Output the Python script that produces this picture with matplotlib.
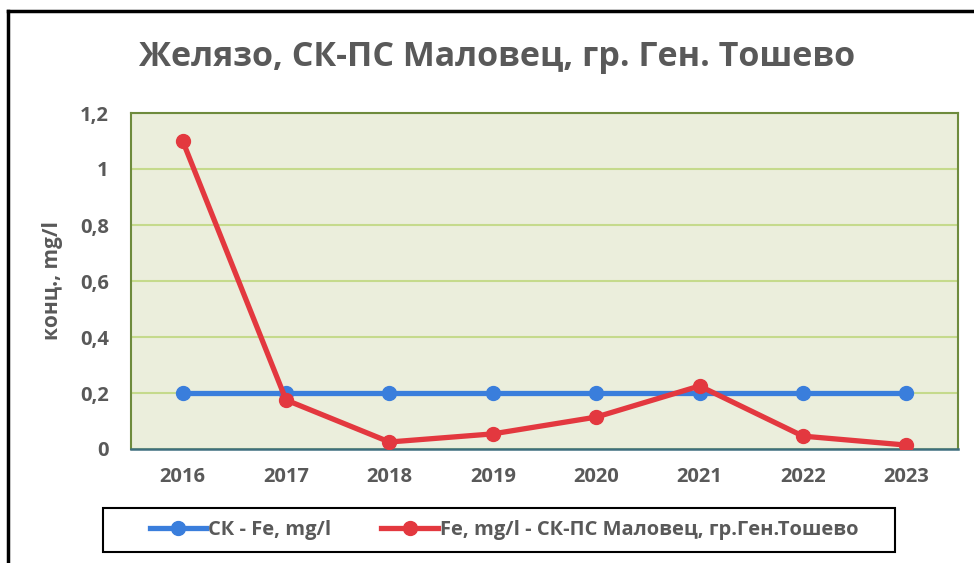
import matplotlib
matplotlib.use("Agg")
import matplotlib.pyplot as plt
from matplotlib.lines import Line2D
from matplotlib.patches import Rectangle

plt.rcParams['font.family'] = ['Open Sans', 'DejaVu Sans']

years = ["2016", "2017", "2018", "2019", "2020", "2021", "2022", "2023"]
sk_fe = [0.2, 0.2, 0.2, 0.2, 0.2, 0.2, 0.2, 0.2]
fe_malovets = [1.1, 0.175, 0.025, 0.054, 0.114, 0.225, 0.046, 0.014]
yticks = [0, 0.2, 0.4, 0.6, 0.8, 1.0, 1.2]
ytick_labels = ["0", "0,2", "0,4", "0,6", "0,8", "1", "1,2"]

title = "Желязо, СК-ПС Маловец, гр. Ген. Тошево"
ylabel = "конц., mg/l"
label_sk = "СК - Fe, mg/l"
label_fe = "Fe, mg/l - СК-ПС Маловец, гр.Ген.Тошево"

gray = "#595959"
blue = "#3A7EDC"
red = "#E3383F"

fig = plt.figure(figsize=(9.74, 5.63), dpi=100)
ax = fig.add_axes([131/974, 1 - 449/563, (958 - 131)/974, (449 - 113)/563])
ax.set_facecolor("#EBEEDC")

x = list(range(len(years)))
ax.plot(x, sk_fe, color=blue, lw=3.8, marker="o", ms=10, zorder=3, label=label_sk)
ax.plot(x, fe_malovets, color=red, lw=3.8, marker="o", ms=10, zorder=4, label=label_fe)

ax.set_xlim(-0.5, len(years) - 0.5)
ax.set_ylim(0, 1.2)
ax.set_yticks(yticks)
ax.set_yticklabels(ytick_labels)
ax.set_xticks(x)
ax.set_xticklabels(years)
ax.yaxis.grid(True, color="#C5DA8C", lw=1.5)
ax.set_axisbelow(True)
ax.tick_params(length=0, labelsize=14.5, labelcolor=gray)
for lab in ax.get_xticklabels() + ax.get_yticklabels():
    lab.set_fontweight("bold")
ax.tick_params(axis="x", pad=13)
ax.tick_params(axis="y", pad=16)
for s in ["left", "top", "right"]:
    ax.spines[s].set_color("#6E8B3D")
    ax.spines[s].set_linewidth(1.5)
ax.spines["bottom"].set_color("#3E6E7E")
ax.spines["bottom"].set_linewidth(1.8)

ax.set_ylabel(ylabel, fontsize=15, fontweight="bold", color=gray, labelpad=12)
fig.text(497/974, 1 - 57/563, title, ha="center", va="center",
         fontsize=24.5, fontweight="bold", color=gray)

# legend box
fig.add_artist(Rectangle((103/974, 1 - 552/563), (895 - 103)/974, 44/563,
                         transform=fig.transFigure, fill=False,
                         edgecolor="black", lw=1.5))
leg = fig.legend(handles=[
    Line2D([], [], color=blue, lw=3.8, marker="o", ms=10),
    Line2D([], [], color=red, lw=3.8, marker="o", ms=10)],
    labels=[label_sk, label_fe],
    loc="center", bbox_to_anchor=(504/974, 1 - 530/563), ncol=2,
    frameon=False, handlelength=2.8,
    handletextpad=0.1, columnspacing=2.5, borderpad=0.3,
    prop={"size": 14.5, "weight": "bold"})
for t in leg.get_texts():
    t.set_color(gray)

# figure border (top and left)
fig.add_artist(Line2D([8/974, 1], [1 - 11/563, 1 - 11/563], color="black", lw=2.5, transform=fig.transFigure))
fig.add_artist(Line2D([8/974, 8/974], [0, 1 - 11/563], color="black", lw=2.5, transform=fig.transFigure))

fig.savefig("out.png", dpi=100)
